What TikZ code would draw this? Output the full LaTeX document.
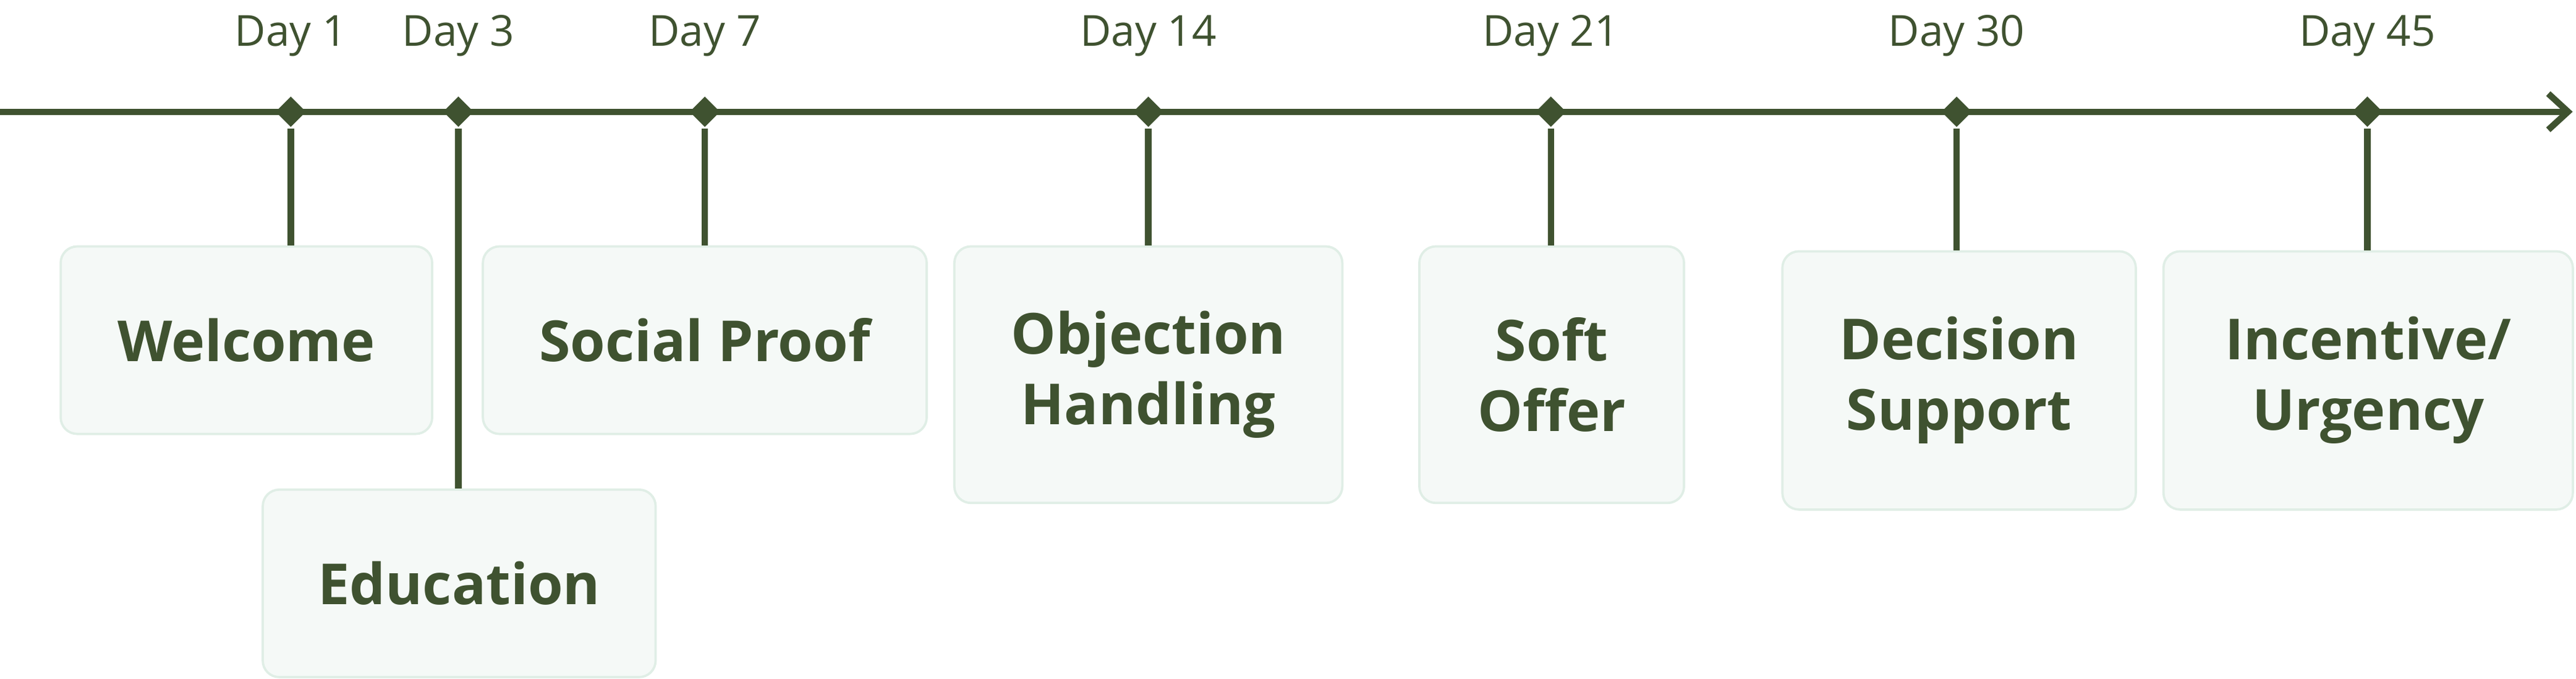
\documentclass[tikz,border=0pt]{standalone}
\usepackage{fontspec}
\setmainfont{Open Sans}
\usetikzlibrary{shapes.geometric, arrows.meta}
\definecolor{olive}{HTML}{3F5230}
\definecolor{boxfill}{HTML}{F5F9F7}
\definecolor{boxline}{HTML}{E0EEE6}
\tikzset{
    stage/.style = {draw = boxline, fill = boxfill, rounded corners = 0.1cm, line width = 0.4pt, align = center, text = olive, font = \fontsize{9.8}{12.2}\selectfont\bfseries, inner sep = 0pt},
    tick/.style = {diamond, fill = olive, minimum size = 0.19cm, inner sep = 0pt},
    daylabel/.style = {text = olive, font = \fontsize{7.4}{8}\selectfont, anchor = base},
    stem/.style = {olive, line width = 1.1pt}
}
\begin{document}
\begin{tikzpicture}[x = 0.01cm, y = -0.01cm]
            \useasboundingbox (0, 0) rectangle (1568, 413);
            
            \coordinate (axisL) at (0, 68);
            \coordinate (axisR) at (1566, 68);
            \draw[stem, -{Straight Barb[length = 0.12cm, width = 0.22cm]}](axisL) -- (axisR);
            
            \node[tick] (t1) at (177, 68) {};
            \node[tick] (t3) at (279, 68) {};
            \node[tick] (t7) at (429, 68) {};
            \node[tick] (t14) at (699, 68) {};
            \node[tick] (t21) at (944, 68) {};
            \node[tick] (t30) at (1191, 68) {};
            \node[tick] (t45) at (1441, 68) {};
            
            \node[daylabel] at (177, 28) {Day 1};
            \node[daylabel] at (279, 28) {Day 3};
            \node[daylabel] at (429, 28) {Day 7};
            \node[daylabel] at (699, 28) {Day 14};
            \node[daylabel] at (944, 28) {Day 21};
            \node[daylabel] at (1191, 28) {Day 30};
            \node[daylabel] at (1441, 28) {Day 45};
            
            \node[stage, minimum width = 2.26cm, minimum height = 1.14cm] (welcome) at (150, 207) {Welcome};
            \node[stage, minimum width = 2.39cm, minimum height = 1.14cm] (education) at (279.5, 355) {Education};
            \node[stage, minimum width = 2.70cm, minimum height = 1.14cm] (social) at (429, 207) {Social Proof};
            \node[stage, minimum width = 2.36cm, minimum height = 1.56cm] (objection) at (699, 228) {Objection\\Handling};
            \node[stage, minimum width = 1.61cm, minimum height = 1.56cm] (soft) at (944.5, 228) {Soft\\Offer};
            \node[stage, minimum width = 2.15cm, minimum height = 1.57cm] (decision) at (1192.5, 231.5) {Decision\\Support};
            \node[stage, minimum width = 2.49cm, minimum height = 1.57cm] (incentive) at (1441.5, 231.5) {Incentive/\\Urgency};
            
            \draw[stem](t1) -- (t1 |- welcome.north);
            \draw[stem](t3) -- (t3 |- education.north);
            \draw[stem](t7) -- (t7 |- social.north);
            \draw[stem](t14) -- (t14 |- objection.north);
            \draw[stem](t21) -- (t21 |- soft.north);
            \draw[stem](t30) -- (t30 |- decision.north);
            \draw[stem](t45) -- (t45 |- incentive.north);
\end{tikzpicture}
\end{document}
